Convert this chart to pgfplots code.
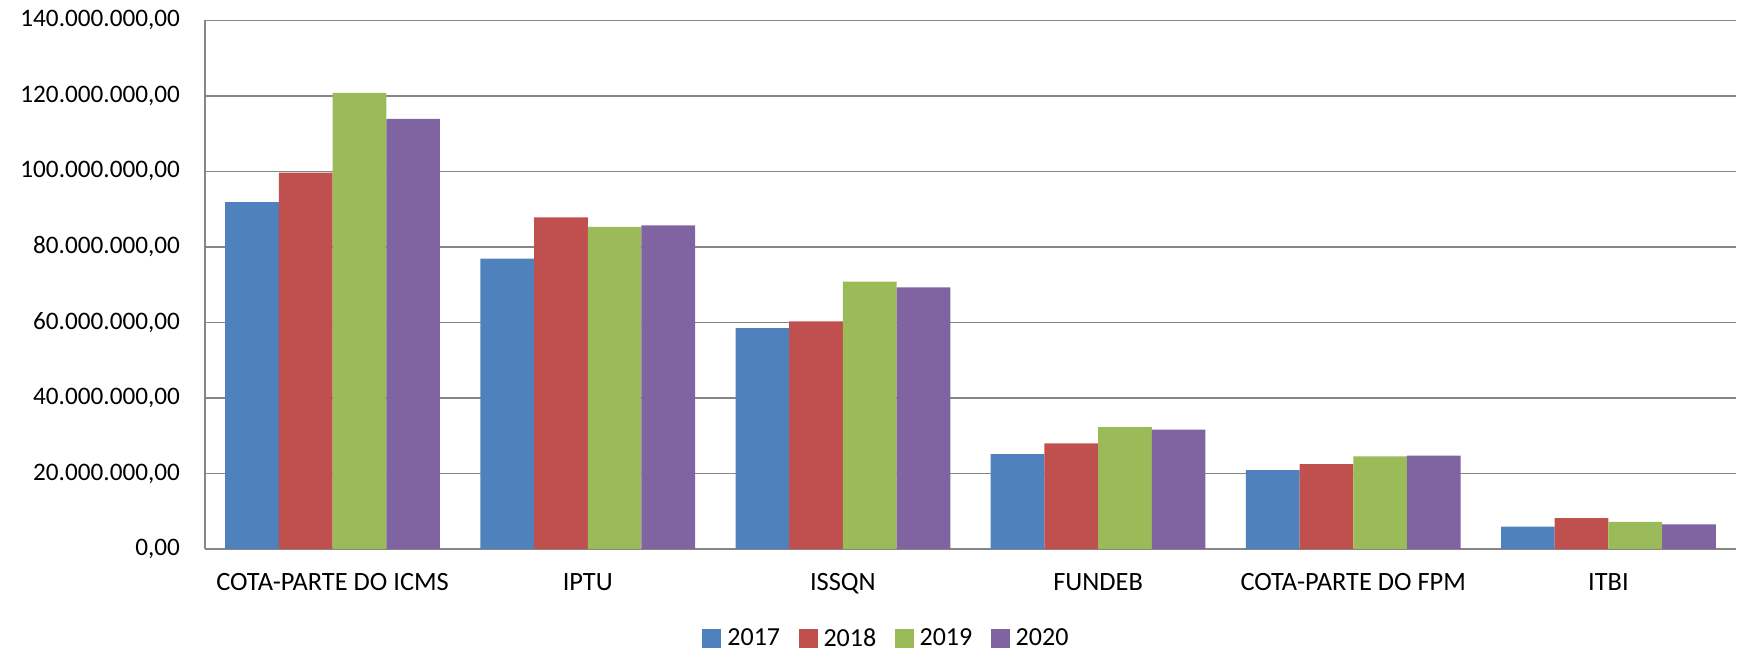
\documentclass[border=0pt]{standalone}
\usepackage{fontspec}
\setmainfont{Carlito}
\usepackage{pgfplots}
\pgfplotsset{compat=1.18}

\definecolor{c2017}{HTML}{4F81BD}
\definecolor{c2018}{HTML}{C0504D}
\definecolor{c2019}{HTML}{9BBB59}
\definecolor{c2020}{HTML}{8064A2}
\definecolor{gridgray}{HTML}{868686}

\begin{document}
\begin{tikzpicture}
\begin{axis}[
  scale only axis,
  width=765.5pt, height=264.3pt,
  ybar=0pt, bar width=26.85pt,
  xmin=-0.5, xmax=5.5,
  ymin=0, ymax=140000000,
  ytick={0,20000000,40000000,60000000,80000000,100000000,120000000,140000000},
  scaled y ticks=false,
  xtick=data,
  xticklabels={COTA-PARTE DO ICMS, IPTU, ISSQN, FUNDEB, COTA-PARTE DO FPM, ITBI},
  major tick length=0pt,
  axis x line*=bottom, axis y line*=left,
  axis line style={gridgray, line width=0.7pt},
  ymajorgrids, major grid style={gridgray, line width=0.7pt},
  /pgf/number format/assume math mode=true,
  yticklabel={\pgfmathprintnumber[fixed, fixed zerofill, precision=2, use comma, 1000 sep={.}]{\tick}},
  yticklabel style={font=\fontsize{12.6}{15}\selectfont, xshift=-9pt},
  xticklabel style={font=\fontsize{13.2}{16}\selectfont, yshift=-8.5pt},
  legend columns=4,
  legend style={draw=none, at={(0.4464,-0.170)}, anchor=center, inner sep=0pt,
    font=\fontsize{13}{16}\selectfont,
    /tikz/every even column/.append style={column sep=6.2pt},
    nodes={inner xsep=3pt, inner ysep=0pt}},
  legend image code/.code={\fill[#1] (0pt,-4.75pt) rectangle (9.5pt,4.75pt);},
  clip=false,
]
\addplot[fill=c2017, draw=none] coordinates {(0,91900000) (1,76900000) (2,58500000) (3,25100000) (4,20900000) (5,5900000)};
\addplot[fill=c2018, draw=none] coordinates {(0,99700000) (1,87800000) (2,60300000) (3,28000000) (4,22500000) (5,8200000)};
\addplot[fill=c2019, draw=none] coordinates {(0,120800000) (1,85300000) (2,70800000) (3,32300000) (4,24500000) (5,7200000)};
\addplot[fill=c2020, draw=none] coordinates {(0,113900000) (1,85700000) (2,69300000) (3,31600000) (4,24700000) (5,6500000)};
\legend{2017,2018,2019,2020}
\end{axis}
\path (-102.5pt,-51.5pt) rectangle (767pt,274.5pt);
\end{tikzpicture}
\end{document}
